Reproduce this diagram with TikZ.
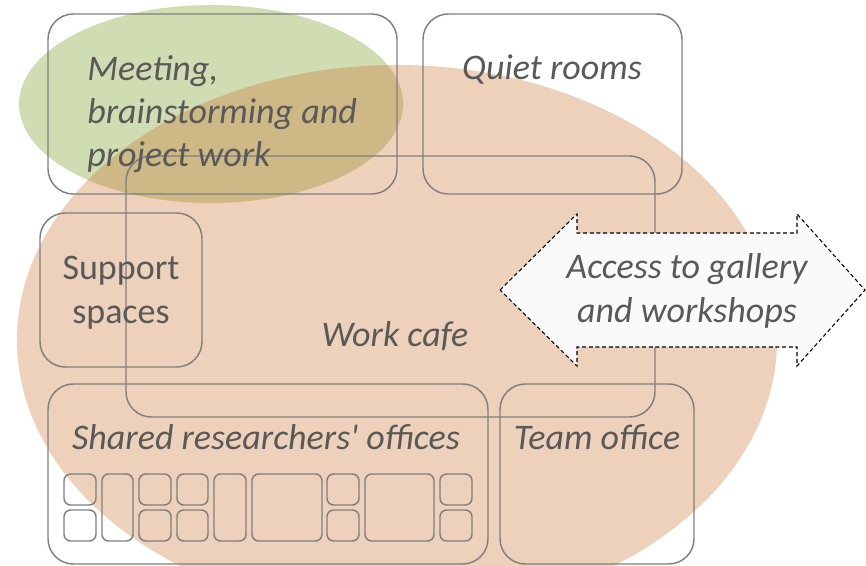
\documentclass[tikz,border=0pt]{standalone}
\usepackage{fontspec}
\setmainfont{Carlito}[Ligatures=TeXOff]
\definecolor{wall}{RGB}{127,127,127}
\definecolor{label}{RGB}{89,89,89}
\definecolor{meetgreen}{RGB}{208,220,178}
\definecolor{cafeorange}{RGB}{199,111,42}
\definecolor{doorfill}{RGB}{250,250,250}

\begin{document}
\begin{tikzpicture}[x=0.75pt,y=-0.75pt,
	room/.style={draw=wall, line width=1.1pt, rounded corners=19pt},
	cell/.style={draw=wall, line width=1.1pt, rounded corners=5pt},
	door/.style={draw=black, fill=doorfill, line width=0.8pt, dash pattern=on 3pt off 2pt},
	area/.style={font=\fontsize{27}{32.25}\selectfont\itshape, text=label, inner sep=0pt, align=center}]
	\useasboundingbox (0,0) rectangle (866,566);
	% zones
	\fill[meetgreen] (211,104) ellipse [x radius=192, y radius=99];
	\fill[cafeorange, opacity=0.32] (397,340) ellipse [x radius=380, y radius=275];
	%
	\draw[room] (48,14) rectangle (397,194);
	\draw[room] (423,14) rectangle (682,194);
	\draw[room] (126,156) rectangle (655,417);
	\draw[room] (40,213) rectangle (202,367);
	\draw[room] (48,384) rectangle (488,564);
	\draw[room] (500,384) rectangle (694,564);
	% offices
	\foreach \xa/\xb in {64/96,139/171,177/208,327/359,440/472} {
		\draw[cell] (\xa,474) rectangle (\xb,505);
		\draw[cell] (\xa,510) rectangle (\xb,541);
	}
	\foreach \xa/\xb in {102/133,214/246,252/322,365/434}
		\draw[cell] (\xa,474) rectangle (\xb,541);
	% access
	\draw[door] (500,290) -- (577,214) -- (577,233) -- (797,233) -- (797,214) -- (865,290)
		-- (797,366) -- (797,347) -- (577,347) -- (577,366) -- cycle;
	%
	\node[area, anchor=base west, align=left] (meeting) at (87,167) {Meeting,\\brainstorming and\\project work};
	\node[area, anchor=base] (quiet) at (552,80) {Quiet rooms};
	\node[area, anchor=base, font=\fontsize{27}{32.25}\selectfont\upshape] (support) at (121,323) {Support\\spaces};
	\node[area, anchor=base] (cafe) at (395,346) {Work cafe};
	\node[area, anchor=base] (shared) at (266,449) {Shared researchers' offices};
	\node[area, anchor=base] (team) at (597,449) {Team office};
	\node[area, anchor=base] (access) at (687,322) {Access to gallery\\and workshops};
\end{tikzpicture}
\end{document}
